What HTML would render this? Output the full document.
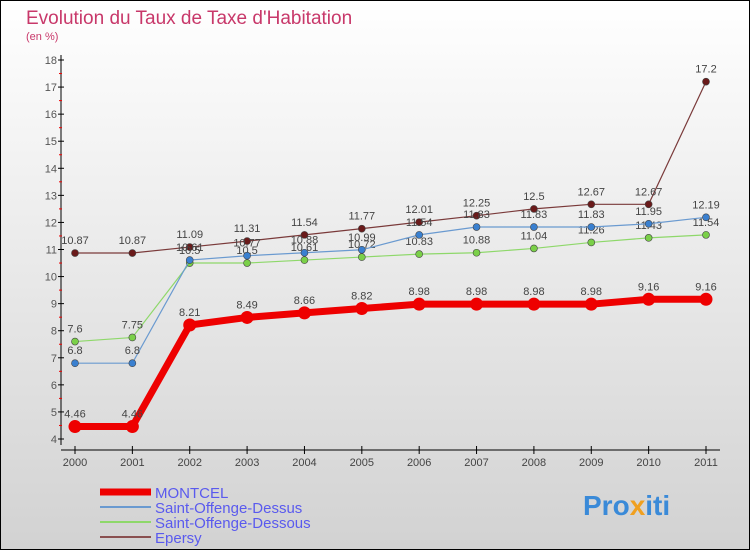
<!DOCTYPE html>
<html><head><meta charset="utf-8"><style>
body{margin:0}
#wrap{position:relative;width:750px;height:550px;overflow:hidden}
svg text{font-family:"Liberation Sans",sans-serif}
</style></head><body>
<div id="wrap">
<svg id="chart" width="750" height="550" xmlns="http://www.w3.org/2000/svg">
<defs><linearGradient id="bg" x1="0" y1="0" x2="0" y2="1"><stop offset="0" stop-color="#ffffff"/><stop offset="1" stop-color="#d2d2d2"/></linearGradient></defs>
<rect x="0.5" y="0.5" width="749" height="549" fill="url(#bg)" stroke="#000"/>
<text x="26" y="24" font-size="19" fill="#c8386a">Evolution du Taux de Taxe d'Habitation</text>
<text x="26" y="40" font-size="11" fill="#c8386a">(en %)</text>
<g id="axes"></g><g id="series"></g><g id="legend"></g>
<text x="583" y="515" font-size="28" font-weight="bold" fill="#3a8ad8">Pro<tspan fill="#f0a020">x</tspan><tspan fill="#3a8ad8">iti</tspan></text>
</svg></div>
<script>
const years=[2000,2001,2002,2003,2004,2005,2006,2007,2008,2009,2010,2011];
const yTicks=[4,5,6,7,8,9,10,11,12,13,14,15,16,17,18];
const montcel=[4.46,4.46,8.21,8.49,8.66,8.82,8.98,8.98,8.98,8.98,9.16,9.16];
const dessus=[6.8,6.8,10.61,10.77,10.88,10.99,11.54,11.83,11.83,11.83,11.95,12.19];
const dessous=[7.6,7.75,10.5,10.5,10.61,10.72,10.83,10.88,11.04,11.26,11.43,11.54];
const epersy=[10.87,10.87,11.09,11.31,11.54,11.77,12.01,12.25,12.5,12.67,12.67,17.2];
const seriesNames=["MONTCEL","Saint-Offenge-Dessus","Saint-Offenge-Dessous","Epersy"];
const NS="http://www.w3.org/2000/svg";
const x=i=>75+i*(631/11);
const y=v=>439-(v-4)*(379/14);
function mk(tag,attrs,parent){const e=document.createElementNS(NS,tag);for(const k in attrs)e.setAttribute(k,attrs[k]);parent.appendChild(e);return e;}
const ax=document.getElementById('axes');
let l=mk('line',{x1:61,y1:55,x2:61,y2:445,stroke:'#000'},ax);


l=mk('line',{x1:61,y1:450,x2:720,y2:450,stroke:'#000'},ax);


yTicks.forEach((v,i)=>{
  mk('line',{x1:58,x2:64,y1:y(v),y2:y(v),stroke:'#000'},ax);
  if(i<yTicks.length-1)mk('line',{x1:59,x2:62,y1:y(v+0.5),y2:y(v+0.5),stroke:'#e00'},ax);
  const t=mk('text',{x:57,y:y(v)+4,'font-size':11,fill:'#555','text-anchor':'end'},ax);
  t.textContent=v;
  
  
});
years.forEach((yr,i)=>{
  mk('line',{x1:x(i),x2:x(i),y1:446,y2:454,stroke:'#000'},ax);
  const t=mk('text',{x:x(i),y:466,'font-size':11,fill:'#444','text-anchor':'middle'},ax);
  t.textContent=yr;
  
  
});
const sg=document.getElementById('series');
const defs=[[epersy,'#7a3a3a','#6a1a1a',1.2,3.5],[dessous,'#8ed86a','#7ad048',1.2,3.5],[dessus,'#6a9ad0','#3a80d0',1.2,3.5],[montcel,'#ee0000','#ee0000',7,6.5]];
const names=['series-epersy','series-saint-offenge-dessous','series-saint-offenge-dessus','series-montcel'];
defs.forEach((d,si)=>{
  const [vals,lc,pc,w,r]=d;
  const g=mk('g',{},sg);
  
  
  const p=mk('polyline',{points:vals.map((v,i)=>x(i)+','+y(v)).join(' '),fill:'none',stroke:lc,'stroke-width':w},g);
  
  
  vals.forEach((v,i)=>{
    const c=mk('circle',{cx:x(i),cy:y(v),r:r,fill:pc,stroke:si==3?'none':'#444','stroke-width':0.6},g);
    
    
    const t=mk('text',{x:x(i),y:y(v)-9,'font-size':11,fill:'#444','text-anchor':'middle'},g);
    t.textContent=v;
    
    
  });
});
const lg=document.getElementById('legend');
const lcol=['#ee0000','#6a9ad0','#8ed86a','#8a5050'];const lw=[7,2,2,2];
seriesNames.forEach((n,i)=>{
  const yy=492+i*15;
  const e=mk('line',{x1:100,x2:151,y1:yy,y2:yy,stroke:lcol[i],'stroke-width':lw[i]},lg);
  
  
  const t=mk('text',{x:155,y:yy+6,'font-size':15,fill:'#5a5aee'},lg);
  t.textContent=n;
  
  
});
</script>
</body></html>
